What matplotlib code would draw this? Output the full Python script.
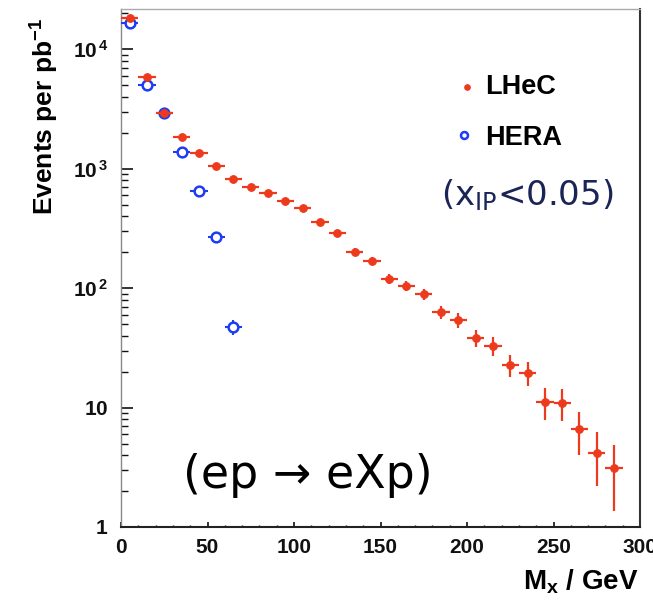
import matplotlib
matplotlib.use("Agg")
import matplotlib.pyplot as plt
from matplotlib import font_manager
from matplotlib.ticker import FixedLocator, FixedFormatter, LogLocator, MultipleLocator, NullFormatter

# ---- data: diffractive mass spectrum, events per pb^-1 in 10 GeV bins ----
mx_lhec = [5, 15, 25, 35, 45, 55, 65, 75, 85, 95, 105, 115, 125, 135, 145,
           155, 165, 175, 185, 195, 205, 215, 225, 235, 245, 255, 265, 275, 285]
ev_lhec = [18200, 5870, 2930, 1845, 1356, 1055, 822, 705, 628, 538, 465, 359,
           290, 201, 169, 120, 104, 89, 63, 54, 38.4, 32.9, 22.8, 19.5, 11.2,
           11.0, 6.6, 4.2, 3.1]
err_lhec = [135, 77, 54, 43, 37, 32, 29, 27, 25, 23, 22, 19, 17, 14, 13, 11,
            10, 9.4, 7.9, 7.3, 6.2, 5.7, 4.8, 4.4, 3.3, 3.3, 2.6, 2.0, 1.75]

mx_hera = [5, 15, 25, 35, 45, 55, 65]
ev_hera = [16500, 5020, 2930, 1383, 652, 269, 47.4]
err_hera = [128, 71, 54, 37, 26, 16, 6.9]

bin_half_width = 5

xtick_vals = [0, 50, 100, 150, 200, 250, 300]
xtick_labels = ["0", "50", "100", "150", "200", "250", "300"]
ytick_vals = [1, 10, 100, 1000, 10000]
ytick_labels = [r"$\mathbf{1}\;\;$", r"$\mathbf{10}\;\;$",
                r"$\mathbf{10^{\,2}}$", r"$\mathbf{10^{\,3}}$", r"$\mathbf{10^{\,4}}$"]

red = "#ee3a1c"
blue = "#1f3cf5"

plt.rcParams["font.family"] = ["Liberation Sans", "DejaVu Sans"]
plt.rcParams["mathtext.fontset"] = "custom"
plt.rcParams["mathtext.bf"] = "Liberation Sans:bold"
plt.rcParams["mathtext.rm"] = "DejaVu Sans"
plt.rcParams["mathtext.it"] = "DejaVu Sans:italic"

fig = plt.figure(figsize=(6.53, 6.04), dpi=100)
W, H = 653, 604
ax = fig.add_axes([121 / W, 1 - 527 / H, 519 / W, 518 / H])
ax.set_yscale("log")
ax.set_xlim(0, 300)
ax.set_ylim(1, 2.17e4)

ax.errorbar(mx_hera, ev_hera, xerr=bin_half_width, yerr=err_hera, fmt="o",
            ms=7, mfc="white", mec=blue, mew=1.8, ecolor=blue,
            elinewidth=1.5, capsize=0, zorder=3)
ax.errorbar(mx_lhec, ev_lhec, xerr=bin_half_width, yerr=err_lhec, fmt="o",
            ms=5.5, mfc=red, mec=red, mew=0.8, ecolor=red,
            elinewidth=1.6, capsize=0, zorder=4)

# axes styling
ax.xaxis.set_major_locator(FixedLocator(xtick_vals))
ax.xaxis.set_major_formatter(FixedFormatter(xtick_labels))
ax.xaxis.set_minor_locator(MultipleLocator(10))
ax.yaxis.set_major_locator(FixedLocator(ytick_vals))
ax.yaxis.set_major_formatter(FixedFormatter(ytick_labels))
ax.yaxis.set_minor_locator(LogLocator(base=10, subs=range(2, 10)))
ax.yaxis.set_minor_formatter(NullFormatter())

ax.tick_params(axis="both", which="both", direction="in", top=False, right=False,
               colors="#111111", labelsize=15)
ax.tick_params(axis="y", which="major", length=8.6, width=1.2, pad=9)
ax.tick_params(axis="y", which="minor", length=5, width=1.0)
ax.tick_params(axis="x", which="major", length=3.5, width=1.2, pad=8)
ax.tick_params(axis="x", which="minor", length=1.8, width=1.0)
for lab in ax.get_xticklabels() + ax.get_yticklabels():
    lab.set_fontweight("bold")

ax.spines["left"].set_color("#888888")
ax.spines["left"].set_linewidth(1.0)
ax.spines["top"].set_color("#aaaaaa")
ax.spines["top"].set_linewidth(1.0)
ax.spines["right"].set_color("#333333")
ax.spines["right"].set_linewidth(1.5)
ax.spines["bottom"].set_color("#222222")
ax.spines["bottom"].set_linewidth(1.5)

# axis titles
try:
    font_manager.findfont(font_manager.FontProperties(family="Liberation Sans Narrow"),
                          fallback_to_default=False)
    ylab_family, ylab_size = ["Liberation Sans Narrow", "Liberation Sans"], 22
except ValueError:
    ylab_family, ylab_size = ["Liberation Sans", "DejaVu Sans"], 19
fig.text(27 / W, 1 - 18 / H, r"Events per pb$^{\mathbf{-1}}$", rotation=90,
         ha="left", va="top", fontsize=ylab_size, fontweight="bold",
         family=ylab_family)
fig.text(638 / W, 1 - 590 / H, r"$\mathbf{M_{x}}$ / GeV", ha="right",
         va="baseline", fontsize=20, fontweight="bold")

# legend
ax.plot([0.667], [0.849], "o", ms=3.8, color=red, transform=ax.transAxes,
        clip_on=False)
ax.text(0.701, 0.849, "LHeC", transform=ax.transAxes, ha="left", va="center",
        fontsize=19.5, fontweight="bold")
ax.plot([0.661], [0.757], "o", ms=5, mfc="white", mec=blue, mew=1.8,
        transform=ax.transAxes, clip_on=False)
ax.text(0.701, 0.751, "HERA", transform=ax.transAxes, ha="left", va="center",
        fontsize=19.5, fontweight="bold")

# annotations
ax.text(0.617, 0.641, r"(x$_{\mathrm{IP}}$<0.05)", transform=ax.transAxes,
        ha="left", va="center", fontsize=24.5, color="#1b2456",
        family=["DejaVu Sans"])
ax.text(0.119, 0.10, "(ep \u2192 eXp)", transform=ax.transAxes, ha="left",
        va="center", fontsize=33, color="black", family=["DejaVu Sans"])

fig.savefig("out.png", dpi=100, facecolor="white")
